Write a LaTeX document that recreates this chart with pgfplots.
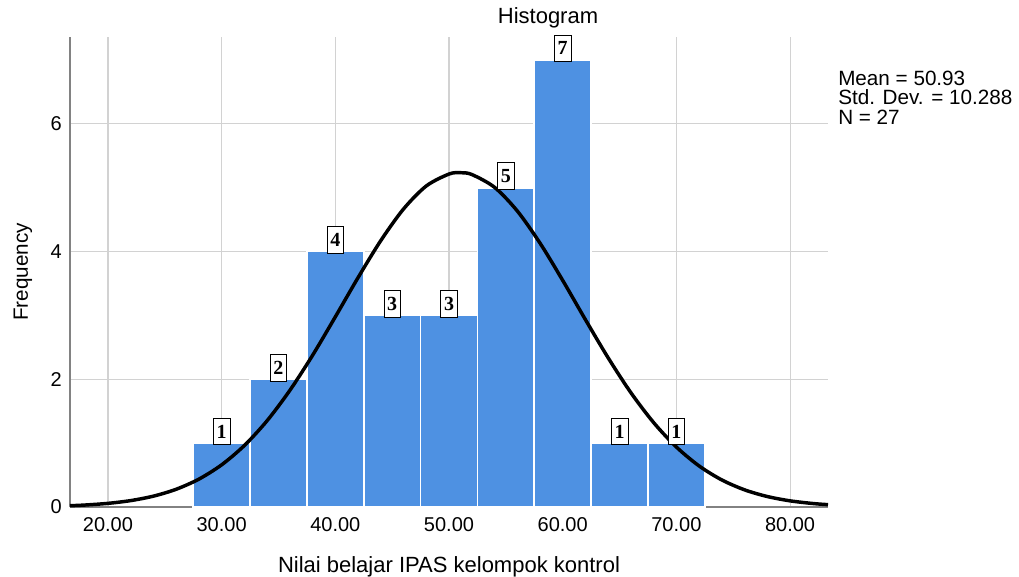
\documentclass[border=0pt]{standalone}
\usepackage{pgfplots}
\pgfplotsset{compat=1.18}
\usepackage{fontspec}
\setmainfont{Liberation Sans}
\newfontfamily\serifb{Liberation Serif}
\definecolor{barblue}{RGB}{78,145,226}
\definecolor{gridgray}{RGB}{210,210,210}
\definecolor{axgray}{RGB}{130,130,130}
\begin{document}
\begin{tikzpicture}[x=0.75pt,y=0.75pt]
\path[use as bounding box] (0,0) rectangle (1019,576);
\begin{axis}[
  at={(52.5pt,51.75pt)}, anchor=south west,
  scale only axis, width=568.5pt, height=352.5pt,
  xmin=16.66, xmax=83.34, ymin=0, ymax=7.36,
  axis x line*=bottom, axis y line*=left,
  axis line style={axgray, line width=0.9pt, -},
  xtick={20,30,40,50,60,70,80},
  xticklabels={20.00,30.00,40.00,50.00,60.00,70.00,80.00},
  ytick={0,2,4,6},
  yticklabels={0,2,4,6},
  major tick length=0pt,
  grid=major, major grid style={gridgray, line width=0.8pt},
  ticklabel style={font=\fontsize{15}{17}\selectfont},
  xticklabel style={anchor=north, inner sep=0pt, yshift=-8pt},
  yticklabel style={anchor=east, inner sep=0pt, xshift=-6pt},
  /pgf/number format/assume math mode=true,
  clip=false,
]
\addplot[ybar, bar width=5, fill=barblue, draw=white, line width=1.2pt,
  nodes near coords={\pgfmathprintnumber{\pgfplotspointmeta}},
  every node near coord/.append style={font=\serifb\bfseries\fontsize{15}{15}\selectfont,
    fill=white, draw=black, line width=0.5pt, inner xsep=2.5pt, inner ysep=2pt,
    minimum height=20pt, anchor=south, yshift=-1.5pt}]
 coordinates {(30,1) (35,2) (40,4) (45,3) (50,3) (55,5) (60,7) (65,1) (70,1)};
\addplot[black, line width=2.6pt, smooth, mark=none] coordinates {
(16.66,0.0204) (18,0.0312) (20,0.0571) (22,0.1004) (24,0.1702) (26,0.2779)
(28,0.4367) (30,0.6607) (32,0.9632) (34,1.3518) (36,1.8266) (38,2.376)
(40,2.978) (42,3.592) (44,4.172) (46,4.667) (48,5.027) (50,5.214) (51,5.235)
(52,5.207) (54,5.007) (56,4.637) (58,4.134) (60,3.549) (62,2.934) (64,2.336)
(66,1.790) (68,1.322) (70,0.9396) (72,0.6430) (74,0.4237) (76,0.2688)
(78,0.1642) (80,0.0966) (82,0.0548) (83.34,0.0366)};
\end{axis}
\node[font=\fontsize{16.5}{18}\selectfont] at (548,558) {Histogram};
\node[anchor=base west, font=\fontsize{15.5}{18}\selectfont, inner sep=0pt] at (838,490) {Mean = 50.93};
\node[anchor=base west, font=\fontsize{15.5}{18}\selectfont, inner sep=0pt] at (838,471) {Std. Dev. = 10.288};
\node[anchor=base west, font=\fontsize{15.5}{18}\selectfont, inner sep=0pt] at (838,451) {N = 27};
\node[anchor=base, font=\fontsize{16.5}{20}\selectfont, inner sep=0pt] at (449,4) {Nilai belajar IPAS kelompok kontrol};
\node[rotate=90, font=\fontsize{15.5}{18}\selectfont] at (23,304) {Frequency};
\end{tikzpicture}
\end{document}
